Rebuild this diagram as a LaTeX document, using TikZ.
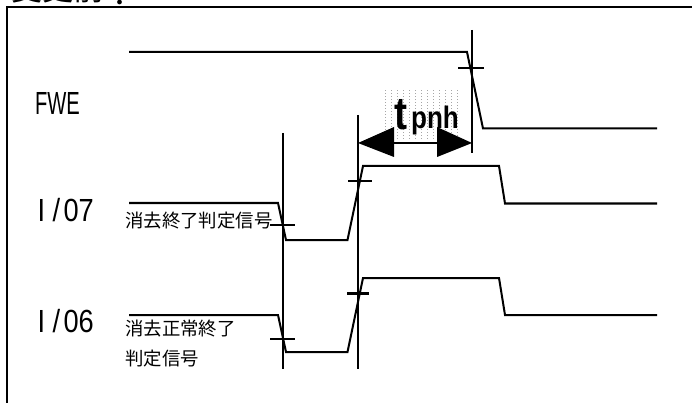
\documentclass[tikz,border=0pt]{standalone}
\usepackage{fontspec}
\setmainfont{Liberation Sans}
\newfontfamily\cjk{Noto Sans CJK JP}
\tikzset{
  sig/.style={line width=2pt,line join=miter},
  tick/.style={line width=2.1pt},
  lab/.style={anchor=base west,inner sep=0pt,font=\fontsize{32}{32}\selectfont},
  note/.style={anchor=west,inner sep=0pt,font=\cjk\fontsize{18.4}{18.4}\selectfont},
  dimarrow/.style={line width=2pt},
  arrowhead/.style={fill=black,draw=none}
}
\begin{document}
\begin{tikzpicture}[x=1pt,y=-1pt]
\useasboundingbox (0,0) rectangle (692,403);
\begin{scope}
\clip (0,0) rectangle (692,403);
\node[anchor=base west,inner sep=0pt,font=\cjk\fontsize{31}{31}\selectfont] (title) at (11,0.5) {変更前\raisebox{-6pt}{：}};
\end{scope}
\draw[line width=1.8pt] (7,403) -- (7,7) -- (692,7);
% dotted patch
\foreach \x in {385,391,...,457} \foreach \y in {90,93,...,138} \fill[black!35] (\x,\y) rectangle ++(1.2,1.2);
\node[inner sep=0pt,anchor=base west,font=\bfseries\fontsize{46}{46}\selectfont,xscale=.85] (t) at (394,130) {t};
\node[inner sep=0pt,anchor=base west,font=\bfseries\fontsize{31}{31}\selectfont,xscale=.84] (pnh) at (411,129) {pnh};
% signals
\draw[sig] (129,52) -- (467,52) -- (483,128.5) -- (657,128.5);
\draw[sig] (129,203) -- (278,203) -- (286,240) -- (347.5,240) -- (363,166) -- (499,166) -- (505,203.5) -- (657,203.5);
\draw[sig] (129,315) -- (278,315) -- (286,352) -- (347.5,352) -- (363,278) -- (499,278) -- (505,315) -- (657,315);
% verticals
\draw[tick] (283,133) -- (283,369);
\draw[tick] (358,115) -- (358,369);
\draw[tick] (472,30) -- (472,153);
% ticks
\draw[tick] (458,68) -- (484,68);
\draw[tick] (348,181) -- (372,181);
\draw[tick] (347,293.5) -- (369,293.5);
\draw[tick] (270,225) -- (295,225);
\draw[tick] (270,339) -- (295,339);
% dim arrow
\fill[arrowhead] (358,143) -- (394,127) -- (394,157) -- cycle;
\fill[arrowhead] (472,143) -- (437,127) -- (437,157) -- cycle;
\draw[dimarrow] (394,143) -- (437,143);
% labels
\node[lab,xscale=.63] (fwe) at (35,115) {FWE};
\node[lab,xscale=.85] (io7) at (37.5,221) {I\hspace{8.7pt}/\hspace{4pt}07};
\node[lab,xscale=.85] (io6) at (37.5,332) {I\hspace{8.7pt}/\hspace{4pt}06};
\node[note] (n1) at (125,221) {消去終了判定信号};
\node[note] (n2) at (125,329) {消去正常終了};
\node[note] (n3) at (125,359) {判定信号};
\end{tikzpicture}
\end{document}
